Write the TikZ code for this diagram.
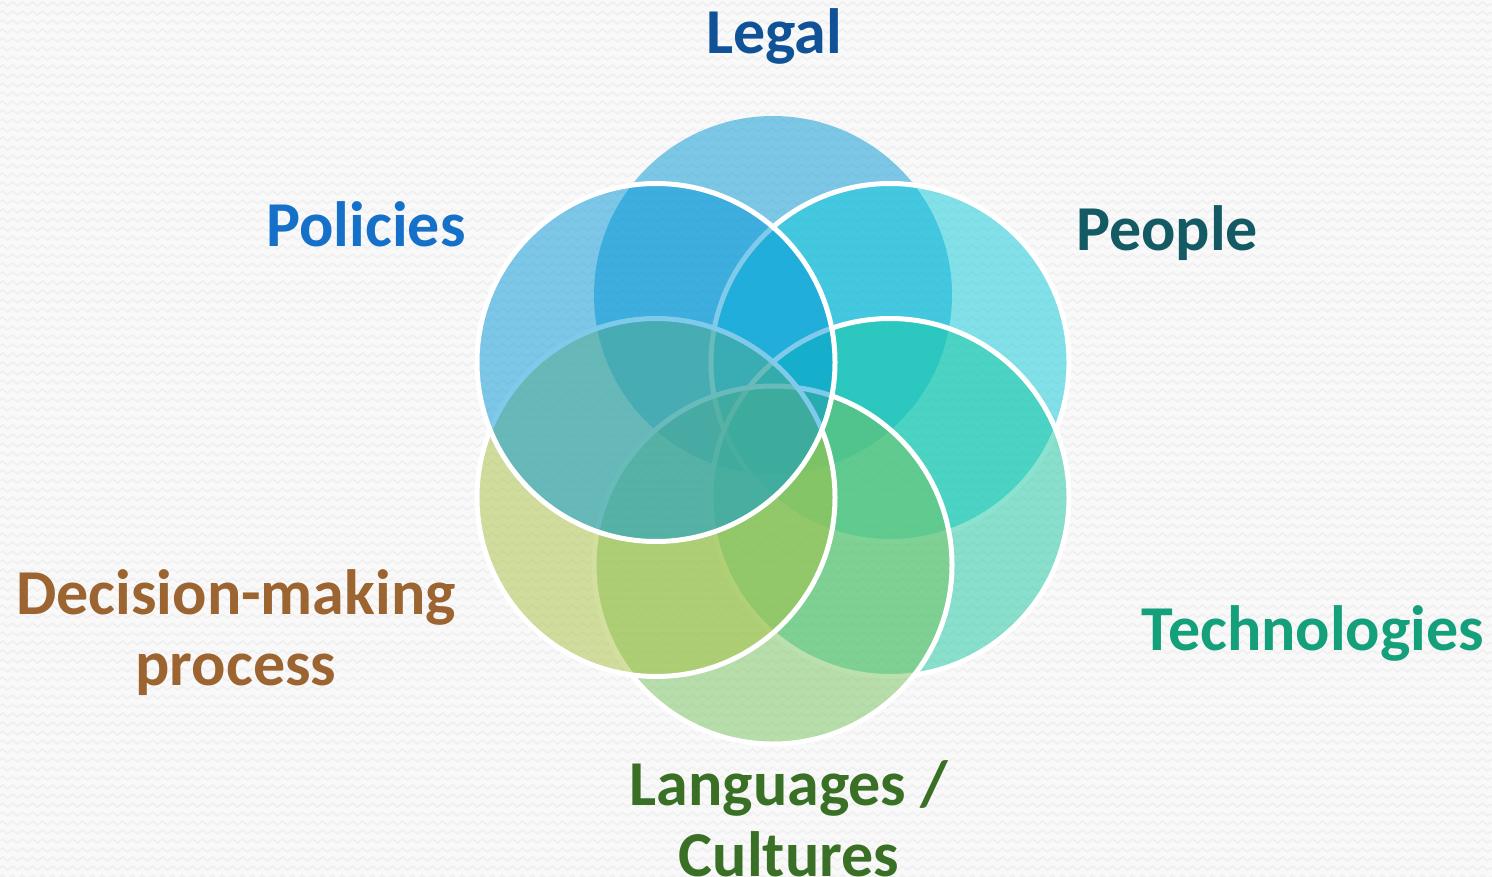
\documentclass[tikz,border=0pt]{standalone}
\usepackage{fontspec}
\setmainfont{Carlito}
\usetikzlibrary{decorations.pathmorphing}
\definecolor{bgc}{HTML}{F9F9F9}
\definecolor{zigc}{HTML}{EFEFEF}
\definecolor{cLegal}{RGB}{0,151,213}
\definecolor{cPeople}{RGB}{13,201,217}
\definecolor{cTech}{RGB}{22,199,160}
\definecolor{cLang}{RGB}{118,194,92}
\definecolor{cDec}{RGB}{167,193,65}
\definecolor{cPol}{RGB}{0,150,215}
\definecolor{tLegal}{HTML}{0F5297}
\definecolor{tPol}{HTML}{1470C8}
\definecolor{tPeople}{HTML}{145A64}
\definecolor{tTech}{HTML}{13A07A}
\definecolor{tDec}{HTML}{9C6430}
\definecolor{tLang}{HTML}{3A7026}
\tikzset{
  ring/.style={circle, minimum size=179pt, inner sep=0pt, fill=#1, fill opacity=0.5, draw=white, line width=2.5pt, draw opacity=1},
  ringnb/.style={circle, minimum size=179pt, inner sep=0pt, fill=#1, fill opacity=0.5, draw=none},
  lbl/.style={font=\bfseries\fontsize{32}{35.5}\selectfont, text=#1, anchor=base, inner sep=0pt, align=center}
}
\begin{document}
\begin{tikzpicture}[x=0.5pt,y=-0.5pt]
\useasboundingbox (0,0) rectangle (1492,877);
\fill[bgc] (0,0) rectangle (1492,877);
\foreach \yy in {4,13,...,877}{
  \draw[zigc, line width=0.7pt, decorate, decoration={zigzag, segment length=5pt, amplitude=1pt}] (0,\yy) -- (1492,\yy);
}
\node[ringnb=cLegal] (legal) at (773,295) {};
\node[ring=cPeople] (people) at (890,362.5) {};
\node[ring=cTech] (tech) at (890,497.5) {};
\node[ring=cLang] (lang) at (773,565) {};
\node[ring=cDec] (dec) at (656,497.5) {};
\node[ring=cPol] (pol) at (656,362.5) {};

\node[lbl=tLegal] (tlegal) at (774,54) {Legal};
\node[lbl=tPol] (tpol) at (366,247) {Policies};
\node[lbl=tPeople] (tpeople) at (1167,250) {People};
\node[lbl=tTech] (ttech) at (1313,650) {Technologies};
\node[lbl=tDec] (tdec) at (236,685) {Decision-making\\process};
\node[lbl=tLang] (tlang) at (789,876) {Languages /\\Cultures};
\end{tikzpicture}
\end{document}
